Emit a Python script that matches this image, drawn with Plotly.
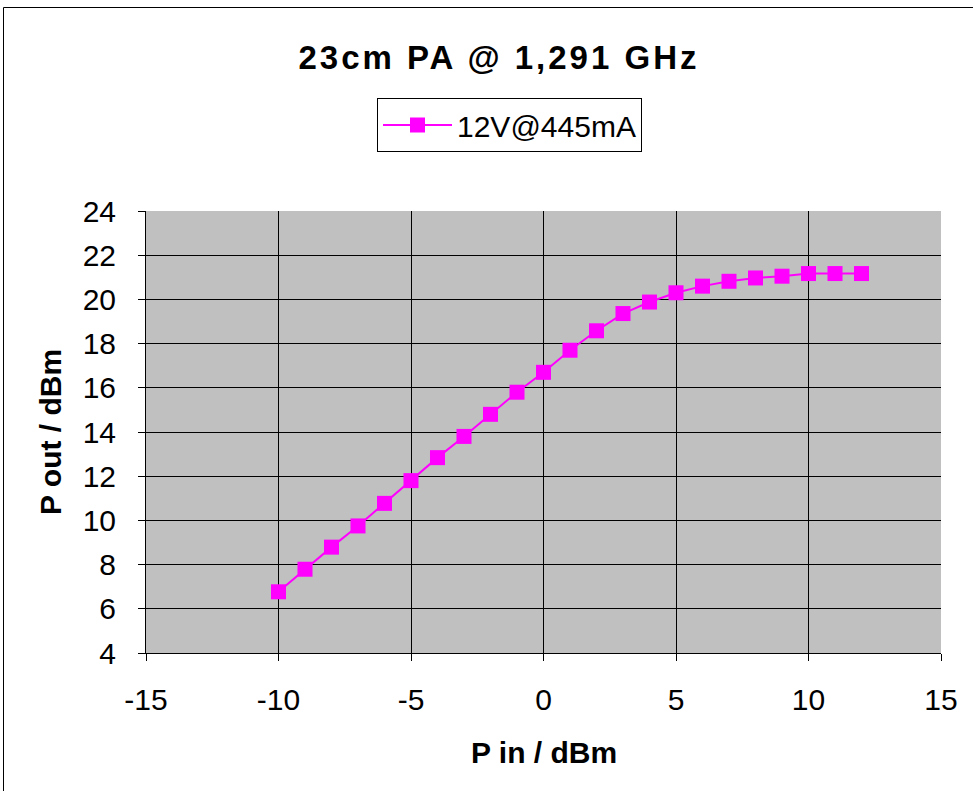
import plotly.graph_objects as go

p_in = [-10, -9, -8, -7, -6, -5, -4, -3, -2, -1, 0, 1, 2, 3, 4, 5, 6, 7, 8, 9, 10, 11, 12]
p_out = [6.77, 7.79, 8.79, 9.75, 10.77, 11.8, 12.84, 13.8, 14.8, 15.8, 16.7, 17.7, 18.58,
         19.36, 19.88, 20.3, 20.6, 20.82, 20.97, 21.05, 21.17, 21.17, 21.17]
x_ticks = [-15, -10, -5, 0, 5, 10, 15]
x_tick_labels = ["-15", "-10", "-5", "0", "5", "10", "15"]
y_ticks = [4, 6, 8, 10, 12, 14, 16, 18, 20, 22, 24]
y_tick_labels = ["4", "6", "8", "10", "12", "14", "16", "18", "20", "22", "24"]
series_name = "12V@445mA"
title = "23cm PA @ 1,291 GHz"
x_title = "P in / dBm"
y_title = "P out / dBm"

FONT = "Liberation Sans, Arial, sans-serif"
W, H = 973, 791
L, T, PW, PH = 146, 211, 795, 442

fig = go.Figure()
fig.add_trace(go.Scatter(
    x=p_in, y=p_out, mode="lines+markers", name=series_name,
    line=dict(color="#FF00FF", width=2),
    marker=dict(symbol="square", size=15, color="#FF00FF"),
))

fig.update_layout(
    width=W, height=H,
    margin=dict(l=L, r=W - L - PW, t=T, b=H - T - PH, pad=0),
    paper_bgcolor="white", plot_bgcolor="#C0C0C0",
    font=dict(family=FONT, color="black", size=30),
    title=dict(text="<b>" + title + "</b>", x=499 / W, xanchor="center",
               y=1 - 57 / H, yanchor="middle", yref="container",
               font=dict(size=33, family=FONT)),
    showlegend=True,
    legend=dict(x=(377 - L) / PW, y=(T + PH - 98) / PH,
                xanchor="left", yanchor="top",
                bordercolor="black", borderwidth=1, bgcolor="white",
                font=dict(size=30, family=FONT), itemwidth=69),
    xaxis=dict(range=[-15, 15], tickmode="array", tickvals=x_ticks, ticktext=x_tick_labels,
               showgrid=True, gridcolor="black", gridwidth=1,
               zeroline=False, showline=True, linecolor="black", linewidth=1,
               ticks="outside", ticklen=7, tickcolor="black", ticklabelstandoff=13,
               tickfont=dict(size=30, family=FONT)),
    yaxis=dict(range=[4, 24], tickmode="array", tickvals=y_ticks, ticktext=y_tick_labels,
               showgrid=True, gridcolor="black", gridwidth=1,
               zeroline=False, showline=True, linecolor="black", linewidth=1,
               ticks="outside", ticklen=7, tickcolor="black", ticklabelstandoff=16,
               tickfont=dict(size=30, family=FONT)),
    annotations=[
        dict(text="<b>" + x_title + "</b>", xref="paper", yref="paper", x=(544 - L) / PW,
             y=(T + PH - 752) / PH, xanchor="center", yanchor="middle", showarrow=False,
             font=dict(size=30, family=FONT)),
        dict(text="<b>" + y_title + "</b>", xref="paper", yref="paper", x=(50 - L) / PW,
             y=(T + PH - 432) / PH, xanchor="center", yanchor="middle", showarrow=False,
             textangle=-90, font=dict(size=30, family=FONT)),
    ],
    shapes=[
        dict(type="rect", xref="paper", yref="paper",
             x0=(3.5 - L) / PW, x1=(1000 - L) / PW,
             y0=(T + PH - 800) / PH, y1=(T + PH - 7.5) / PH,
             line=dict(color="black", width=1), fillcolor="rgba(0,0,0,0)", layer="below"),
    ],
)

post = ("document.body.style.margin='0';document.body.style.overflow='hidden';"
        "var t=document.querySelector('.gtitle'); if(t){t.style.letterSpacing='3px';}")
fig.write_html("out.html", post_script=post, config={"displayModeBar": False})
